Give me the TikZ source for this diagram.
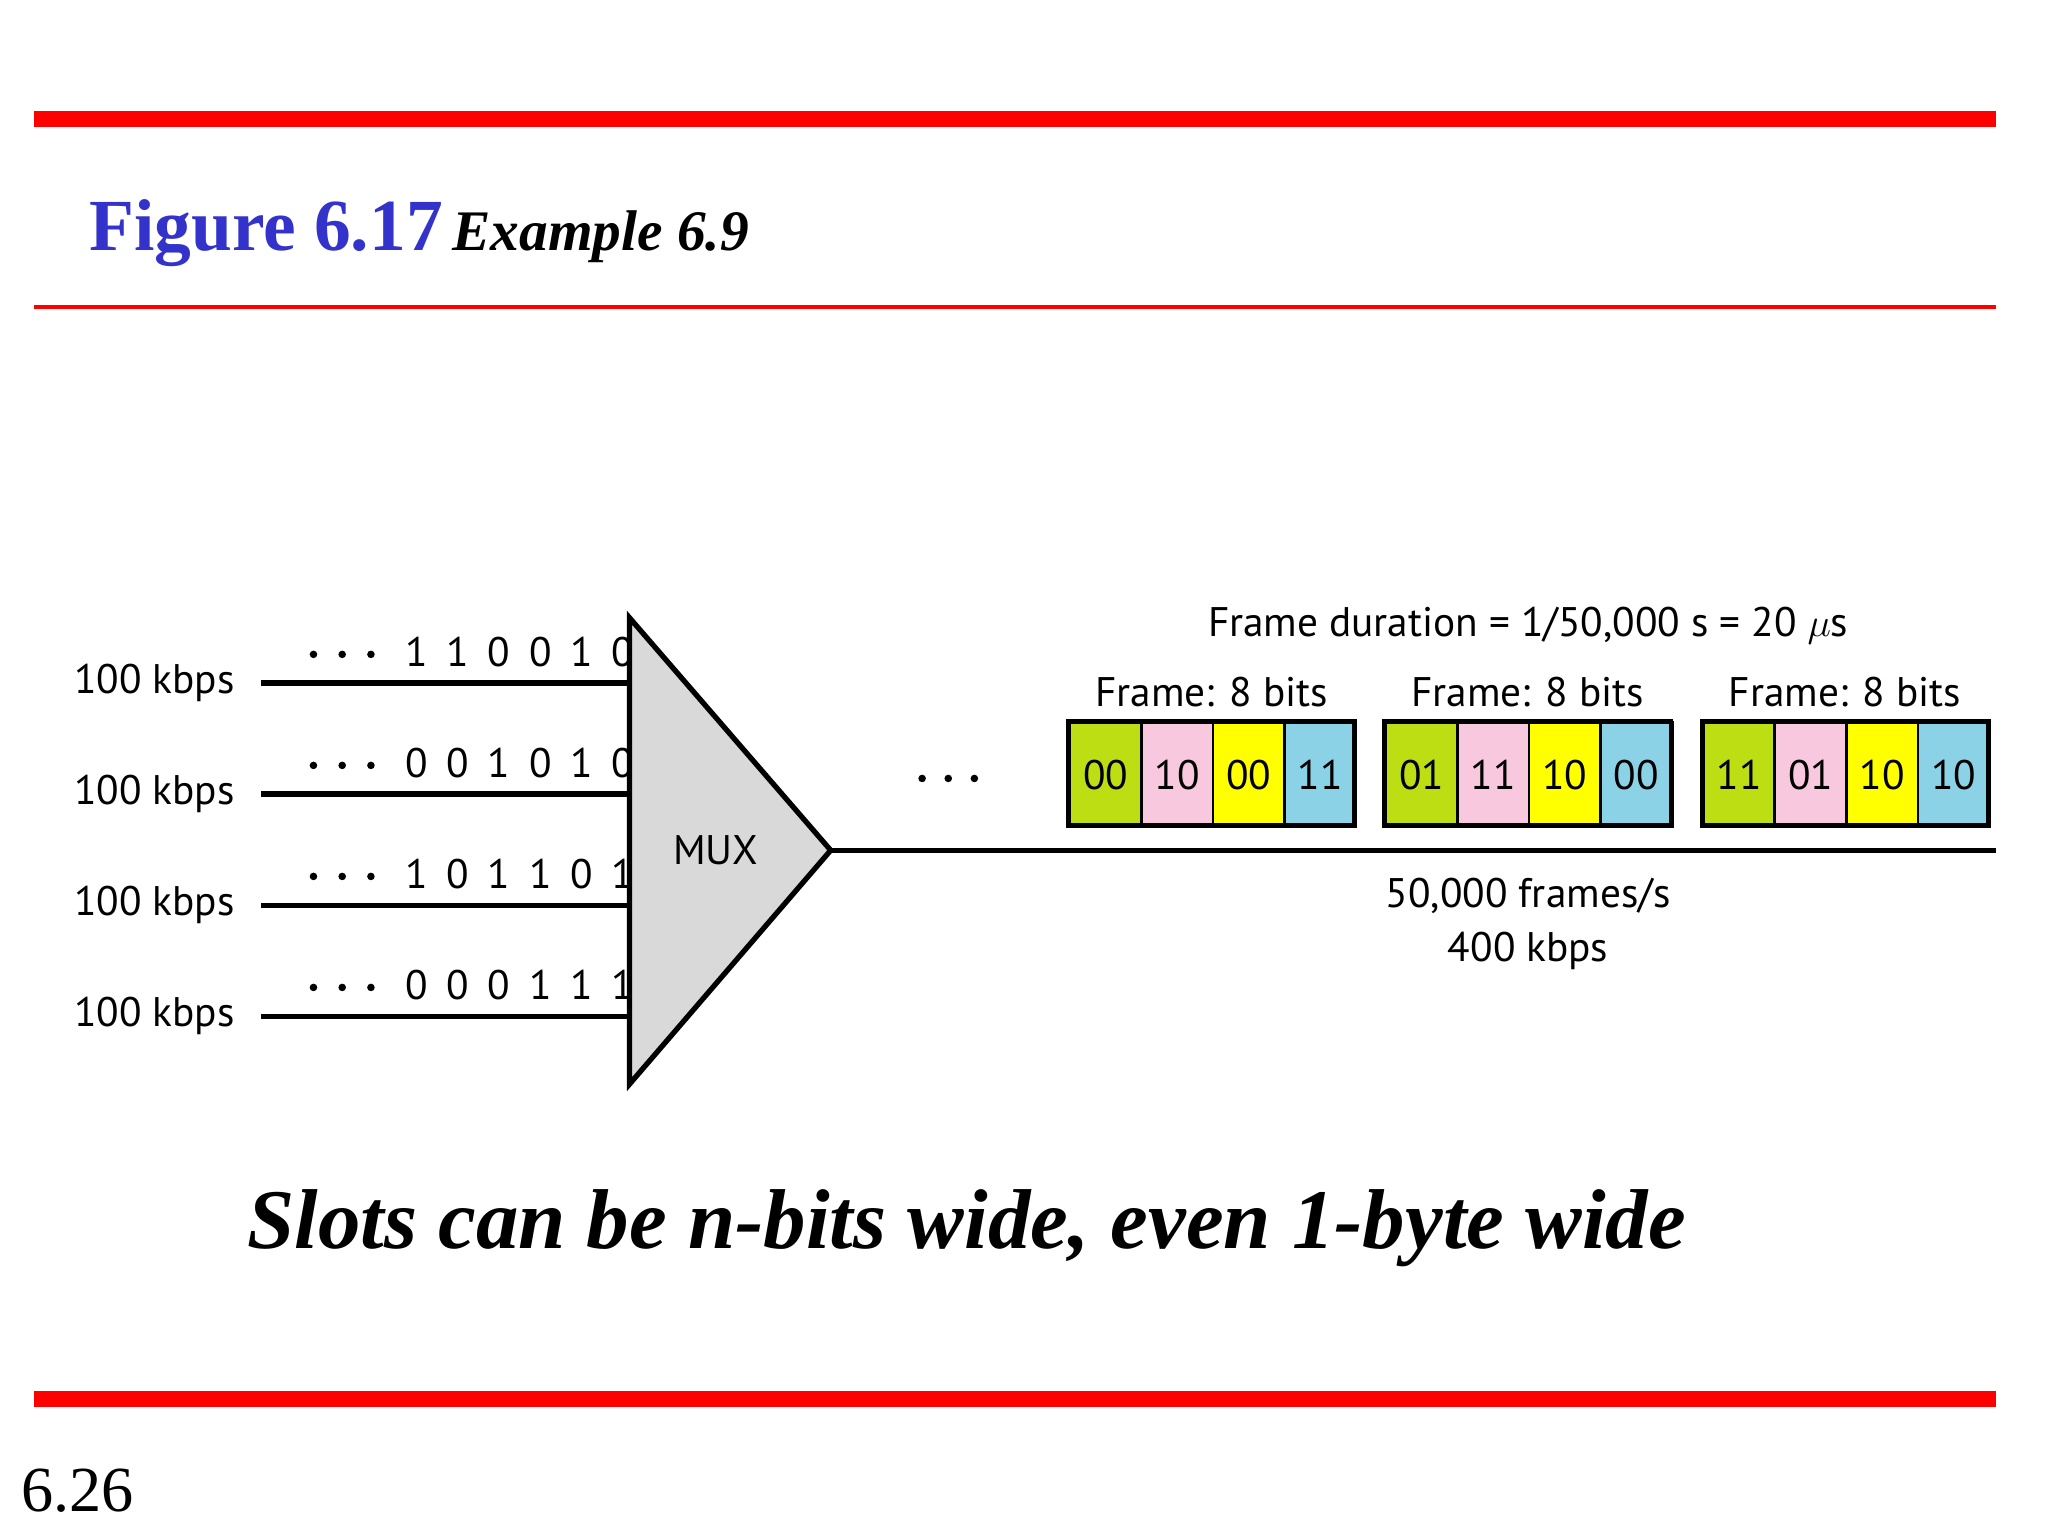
\documentclass[tikz,border=0pt]{standalone}
\usepackage{fontspec}
\setmainfont{Liberation Serif}
\newfontfamily\sansf{PT Sans}
\newfontfamily\spacedf{PT Sans}[LetterSpace=45]
\definecolor{redl}{RGB}{255,0,0}
\definecolor{figblue}{RGB}{51,51,204}
\definecolor{cgreen}{RGB}{190,222,20}
\definecolor{cpink}{RGB}{248,200,222}
\definecolor{cyellow}{RGB}{255,255,0}
\definecolor{cblue}{RGB}{140,210,230}
\definecolor{mgray}{RGB}{217,217,217}
\begin{document}
\begin{tikzpicture}[x=0.02cm,y=-0.02cm,
  sl/.style={font=\sansf\fontsize{18}{20}\selectfont,inner sep=0},
  bits/.style={font=\spacedf\fontsize{18}{20}\selectfont,inner sep=0},
  wire/.style={line width=2.3pt},
  cell/.style={draw=black,line width=1.2pt,minimum width=54.8*0.02cm,minimum height=80*0.02cm,inner sep=0,font=\sansf\fontsize{18}{20}\selectfont}]
\useasboundingbox[fill=white] (0,0) rectangle (1568,1176);
\draw[redl,line width=6.8pt] (26,91) -- (1528,91);
\draw[redl,line width=1.7pt] (26,235) -- (1528,235);
\draw[redl,line width=6.8pt] (26,1071) -- (1528,1071);
\node[anchor=base west,inner sep=0,text=figblue,font=\fontsize{32}{34}\selectfont\bfseries] (fig) at (68,192) {Figure 6.17};
\node[anchor=base west,inner sep=0,font=\fontsize{25}{27}\selectfont\bfseries\itshape] (ex) at (346,192) {Example 6.9};
% MUX
\coordinate (t1) at (482,473);
\coordinate (t2) at (482,830);
\coordinate (tip) at (636,651);
\draw[line width=2.3pt,fill=mgray,line join=miter] (t1) -- (t2) -- (tip) -- cycle;
\node[sl] (mux) at (548,651) {MUX};
% inputs
\foreach \y/\b/\n in {523/110010/a,608/001010/b,693/101101/c,778/000111/d}{
  \coordinate (s\n) at (200,\y);
  \coordinate (e\n) at (482,\y);
  \draw[wire] (s\n) -- (e\n);
  \node[sl,anchor=east] (l\n) at (180,\y) {100 kbps};
  \node[bits] (b\n) at (398,\y-24) {\b};
  \foreach \dx in {240,262,284}{\fill (\dx,\y-22) circle (2.9);}
}
% output
\coordinate (oe) at (1528,651);
\draw[wire] (tip) -- (oe);
\foreach \dx in {706,726,746}{\fill (\dx,596) circle (2.9);}
% frames
\foreach \x/\ta/\tb/\tc/\td/\k in {818/00/10/00/11/1,1060/01/11/10/00/2,1303/11/01/10/10/3}{
  \node[cell,fill=cgreen,anchor=north west] (f\k a) at (\x,552) {\ta};
  \node[cell,fill=cpink,anchor=north west] (f\k b) at (\x+54.8,552) {\tb};
  \node[cell,fill=cyellow,anchor=north west] (f\k c) at (\x+109.6,552) {\tc};
  \node[cell,fill=cblue,anchor=north west] (f\k d) at (\x+164.4,552) {\td};
  \draw[line width=2pt] (\x,552) rectangle (\x+219.2,632);
  \node[sl] (fl\k) at (\x+109.6,530) {Frame: 8 bits};
}
\node[sl] (dur) at (1170,479) {Frame duration = 1/50,000 s = 20 $\mu$s};
\node[sl] (fps) at (1170,686) {50,000 frames/s};
\node[sl] (kb) at (1170,728) {400 kbps};
\node[inner sep=0,font=\fontsize{37}{40}\selectfont\bfseries\itshape] (cap) at (740,940) {Slots can be n-bits wide, even 1-byte wide};
\node[anchor=base west,inner sep=0,font=\fontsize{28}{30}\selectfont] (pg) at (16,1157) {6.26};
\end{tikzpicture}
\end{document}
